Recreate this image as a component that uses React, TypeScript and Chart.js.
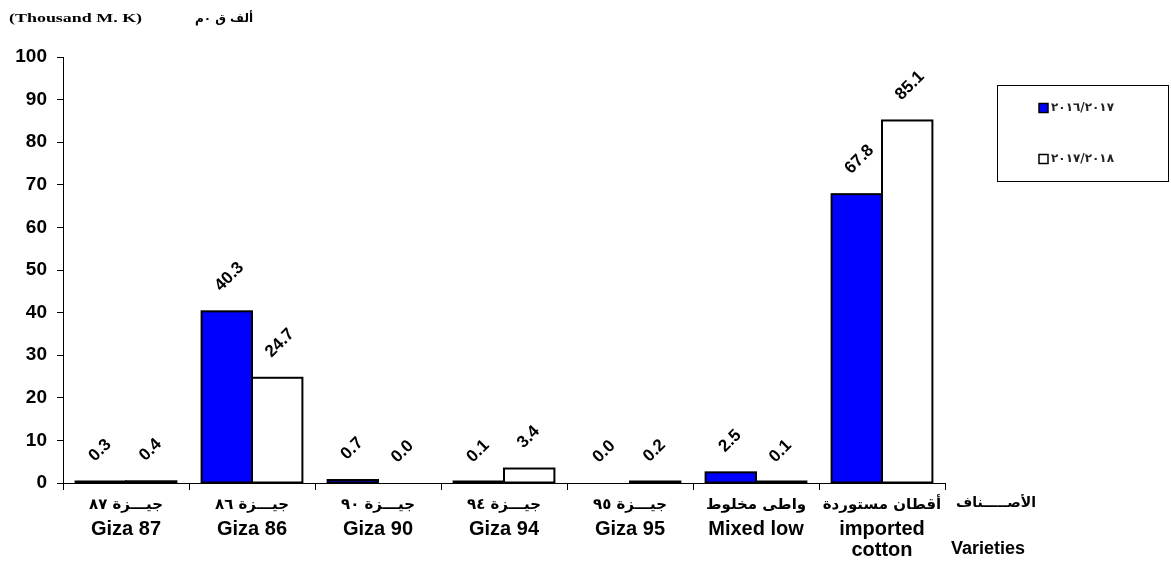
import React, { useEffect, useRef } from "react";
import { Chart, registerables } from "chart.js";

Chart.register(...registerables);

const categoriesAr = ["جيـــزة ٨٧", "جيـــزة ٨٦", "جيـــزة ٩٠", "جيـــزة ٩٤", "جيـــزة ٩٥", "واطى مخلوط", "أقطان مستوردة"];
const categoriesEn = [["Giza 87"], ["Giza 86"], ["Giza 90"], ["Giza 94"], ["Giza 95"], ["Mixed low"], ["imported", "cotton"]];
const seriesNames = ["٢٠١٦/٢٠١٧", "٢٠١٧/٢٠١٨"];
const series2017 = [0.3, 40.3, 0.7, 0.1, 0.0, 2.5, 67.8];
const series2018 = [0.4, 24.7, 0.0, 3.4, 0.2, 0.1, 85.1];
const yMin = 0;
const yMax = 100;
const yStep = 10;
const titleEn = "(Thousand M. K)";
const titleAr = "ألف ق ٠م";
const axisLabelAr = "الأصـــــناف";
const axisLabelEn = "Varieties";

const AR_FONT = '"DejaVu Sans", "Noto Sans", sans-serif';
const LAT_FONT = '"Liberation Sans", Arial, sans-serif';

const overlayPlugin = {
  id: "overlay",
  afterDatasetsDraw(chart: any) {
    const ctx = chart.ctx;
    ctx.save();
    // bar outlines (centered on edges, like the reference)
    ctx.strokeStyle = "#000";
    ctx.lineWidth = 2;
    chart.data.datasets.forEach((ds: any, di: number) => {
      const meta = chart.getDatasetMeta(di);
      meta.data.forEach((el: any, i: number) => {
        const v = ds.data[i];
        if (!v) return;
        const p = el.getProps(["x", "y", "base", "width"], true);
        const h = Math.max(p.base - p.y, 1);
        ctx.strokeRect(p.x - p.width / 2, p.base - h, p.width, h);
      });
    });
    // value labels
    ctx.fillStyle = "#000";
    ctx.font = `bold 17px ${LAT_FONT}`;
    ctx.textAlign = "left";
    ctx.textBaseline = "middle";
    chart.data.datasets.forEach((ds: any, di: number) => {
      const meta = chart.getDatasetMeta(di);
      meta.data.forEach((el: any, i: number) => {
        const v = ds.data[i];
        ctx.save();
        ctx.translate(el.x - 9, el.y - 23);
        ctx.rotate(-Math.PI / 4);
        ctx.fillText(Number(v).toFixed(1), 0, 0);
        ctx.restore();
      });
    });
    ctx.restore();
  },
  afterDraw(chart: any) {
    const ctx = chart.ctx;
    const xs = chart.scales.x;
    ctx.save();
    ctx.fillStyle = "#000";
    ctx.textAlign = "center";
    ctx.textBaseline = "middle";
    // category labels
    categoriesAr.forEach((ar, i) => {
      const cx = xs.getPixelForValue(i);
      ctx.font = `bold 15px ${AR_FONT}`;
      ctx.fillText(ar, cx, 505);
      ctx.font = `bold 20px ${LAT_FONT}`;
      categoriesEn[i].forEach((line, li) => {
        ctx.fillText(line, cx, 529 + li * 21);
      });
    });
    // axis name
    ctx.font = `bold 14px ${AR_FONT}`;
    ctx.fillText(axisLabelAr, 996, 503);
    ctx.font = `bold 18px ${LAT_FONT}`;
    ctx.fillText(axisLabelEn, 988, 549);

    // title (stretched horizontally)
    ctx.save();
    ctx.textAlign = "left";
    ctx.font = `bold 13px "Liberation Serif", "Times New Roman", serif`;
    ctx.translate(9, 19);
    ctx.scale(1.38, 1);
    ctx.fillText(titleEn, 0, 0);
    ctx.restore();
    ctx.save();
    ctx.textAlign = "right";
    ctx.font = `bold 12px ${AR_FONT}`;
    ctx.fillText(titleAr, 253, 19);
    ctx.restore();

    // legend
    ctx.save();
    ctx.strokeStyle = "#000";
    ctx.lineWidth = 1;
    ctx.strokeRect(997.5, 85.5, 171, 96);
    const legendY = [108, 159];
    chart.data.datasets.forEach((ds: any, di: number) => {
      const y = legendY[di];
      ctx.fillStyle = ds.backgroundColor;
      ctx.fillRect(1039, y - 4.5, 9, 9);
      ctx.lineWidth = 1.5;
      ctx.strokeStyle = "#000";
      ctx.strokeRect(1039, y - 4.5, 9, 9);
      ctx.fillStyle = "#222";
      ctx.font = `bold 12px ${AR_FONT}`;
      ctx.textAlign = "left";
      ctx.textBaseline = "middle";
      ctx.fillText(seriesNames[di], 1051, y);
    });
    ctx.restore();
    ctx.restore();
  },
};

export default function App() {
  const ref = useRef<HTMLCanvasElement | null>(null);
  useEffect(() => {
    if (!ref.current) return;
    const chart = new Chart(ref.current, {
      type: "bar",
      data: {
        labels: categoriesEn.map((l) => l.join(" ")),
        datasets: [
          {
            label: seriesNames[0],
            data: series2017,
            backgroundColor: "#0000FF",
            borderWidth: 0,
            categoryPercentage: 0.8,
            barPercentage: 1.0,
          },
          {
            label: seriesNames[1],
            data: series2018,
            backgroundColor: "#FFFFFF",
            borderWidth: 0,
            categoryPercentage: 0.8,
            barPercentage: 1.0,
          },
        ],
      },
      options: {
        animation: false,
        responsive: true,
        maintainAspectRatio: false,
        layout: { padding: { left: 0, top: 57, right: 226, bottom: 0 } },
        plugins: {
          legend: { display: false },
          tooltip: { enabled: false },
          title: { display: false },
        },
        scales: {
          x: {
            offset: true,
            grid: {
              offset: true,
              drawOnChartArea: false,
              drawTicks: true,
              tickLength: 7,
              color: "#000",
              lineWidth: 1,
            },
            border: { display: true, color: "#000", width: 1 },
            ticks: { display: false },
            afterFit: (s: any) => {
              s.height = 85;
            },
          },
          y: {
            min: yMin,
            max: yMax,
            grid: {
              drawOnChartArea: false,
              drawTicks: true,
              tickLength: 6,
              color: "#000",
              lineWidth: 1,
            },
            border: { display: true, color: "#000", width: 1 },
            ticks: {
              stepSize: yStep,
              padding: 10,
              color: "#000",
              font: { family: LAT_FONT, size: 19, weight: "bold" },
            },
            afterFit: (s: any) => {
              s.width = 63;
            },
          },
        },
      },
      plugins: [overlayPlugin],
    });
    return () => chart.destroy();
  }, []);
  return (
    <div style={{ position: "absolute", left: 0, top: 0, width: 1171, height: 568, background: "#fff" }}>
      <canvas ref={ref} />
    </div>
  );
}
